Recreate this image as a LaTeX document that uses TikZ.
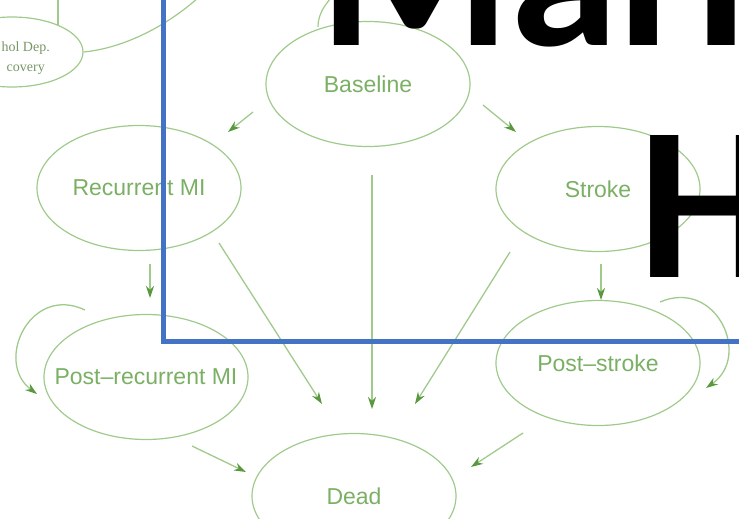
\documentclass[tikz,border=0pt]{standalone}
\usepackage{fontspec}
\setmainfont{Liberation Sans}
\newfontfamily\titlefont{Carlito}
\newfontfamily\notefont{Liberation Serif}
\usetikzlibrary{shapes.geometric,arrows.meta}

\definecolor{stategreen}{RGB}{160,202,140}
\definecolor{labelgreen}{RGB}{122,176,100}
\definecolor{tipgreen}{RGB}{88,152,62}
\definecolor{notegreen}{RGB}{118,150,100}
\definecolor{frameblue}{RGB}{68,114,196}

% a label that does not widen its ellipse
\newcommand\statelabel[1]{\makebox[0pt]{#1}}

\tikzset{
  state/.style={ellipse, draw=stategreen, line width=1.2pt,
    minimum width=204pt, minimum height=125pt, inner sep=0pt,
    text=labelgreen, font=\fontsize{23}{27}\selectfont},
  trans/.style={draw=stategreen, line width=1.3pt,
    -{Stealth[length=12pt,width=8pt,color=tipgreen]}},
  plainlink/.style={draw=stategreen, line width=1.2pt},
  note/.style={text=notegreen, font=\notefont\fontsize{14}{17}\selectfont,
    inner sep=0pt, anchor=base east},
  title/.style={font=\titlefont\bfseries\fontsize{219}{219}\selectfont,
    anchor=base west, inner sep=0pt, text=black},
}

\begin{document}
\begin{tikzpicture}[x=1pt,y=-1pt]
\useasboundingbox (0,0) rectangle (739,519);

% states of the model
\node[state] (base)    at (368,84)  {\statelabel{Baseline}};
\node[state] (rmi)     at (139,188) {\statelabel{Recurrent MI}};
\node[state] (stroke)  at (598,189) {\statelabel{Stroke}};
\node[state] (prmi)    at (146,377) {\statelabel{Post–recurrent MI}};
\node[state] (pstroke) at (598,363) {\statelabel{Post–stroke}};
\node[state] (dead)    at (354,496) {\statelabel{Dead}};

% state at the upper left edge
\node[state, minimum width=142pt, minimum height=70pt] (adr) at (12,52) {};
\node[note] (adrtop) at (50,52) {hol Dep.};
\node[note] (adrbot) at (45,72) {covery};

% links leaving the upper edge
\coordinate (adrup) at (58,-2);
\coordinate (adrin) at (58,25.5);
\coordinate (adrout) at (199,-3);
\coordinate (topa) at (318,27);
\coordinate (topb) at (331,-2);
\draw[plainlink] (adrup) -- (adrin);
\draw[plainlink] (adr.east) .. controls (125,48) and (168,25) .. (adrout);
\draw[plainlink] (topa) .. controls (318,15) and (324,6) .. (topb);

% transition end points
\coordinate (b-r1) at (253,112); \coordinate (b-r2) at (228,132);
\coordinate (b-s1) at (483,105); \coordinate (b-s2) at (516,132);
\coordinate (b-d1) at (372,175); \coordinate (b-d2) at (372,409);
\coordinate (r-d1) at (219,243); \coordinate (r-d2) at (322,404);
\coordinate (s-d1) at (510,252); \coordinate (s-d2) at (415,404);
\coordinate (r-p1) at (150,264); \coordinate (r-p2) at (150,298);
\coordinate (s-p1) at (601,264); \coordinate (s-p2) at (601,300);
\coordinate (p-d1) at (192,446); \coordinate (p-d2) at (246,472);
\coordinate (q-d1) at (523,433); \coordinate (q-d2) at (471,467);
\coordinate (p-l1) at (85,310);  \coordinate (p-l2) at (37,394);
\coordinate (q-l1) at (660,302); \coordinate (q-l2) at (706,388);

\draw[trans] (b-r1) -- (b-r2);
\draw[trans] (b-s1) -- (b-s2);
\draw[trans] (b-d1) -- (b-d2);
\draw[trans] (r-d1) -- (r-d2);
\draw[trans] (s-d1) -- (s-d2);
\draw[trans] (r-p1) -- (r-p2);
\draw[trans] (s-p1) -- (s-p2);
\draw[trans] (p-d1) -- (p-d2);
\draw[trans] (q-d1) -- (q-d2);

% staying in a post-event state
\draw[trans] (p-l1) .. controls (30,284) and (-6,362) .. (p-l2);
\draw[trans] (q-l1) .. controls (716,278) and (752,356) .. (q-l2);

% slide frame and heading
\draw[frameblue, line width=5pt] (163,-20) -- (163,341) -- (760,341);
\node[title] (head1) at (319,46) {Mark};
\node[title] (head2) at (638,277) {H};
\end{tikzpicture}
\end{document}
